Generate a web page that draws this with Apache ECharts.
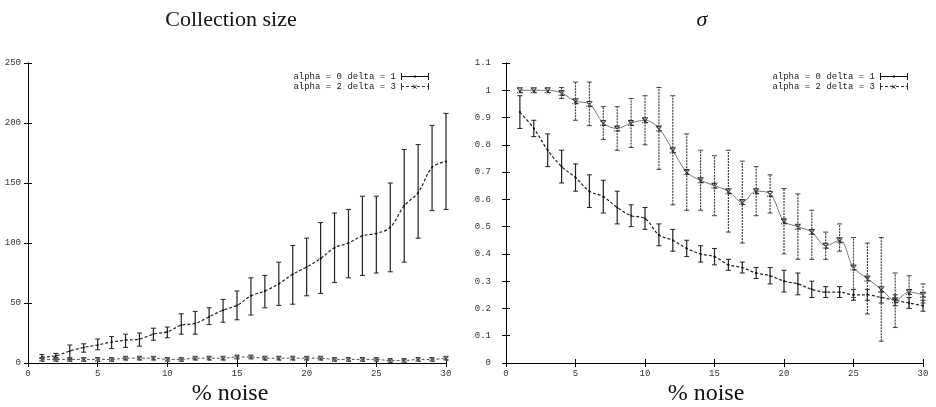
<!DOCTYPE html>
<html>
<head>
<meta charset="utf-8">
<script src="https://cdn.jsdelivr.net/npm/echarts@6/dist/echarts.min.js"></script>
<style>html,body{margin:0;padding:0;background:#fff}#c{width:936px;height:407px}</style>
</head>
<body>
<div id="c"></div>
<script>
var noise = [1,2,3,4,5,6,7,8,9,10,11,12,13,14,15,16,17,18,19,20,21,22,23,24,25,26,27,28,29,30];
var seriesNames = ['alpha = 0 delta = 1', 'alpha = 2 delta = 3'];
var sizeTicks = [0,50,100,150,200,250];

var sizeA = [5,6,10,13,15,17.5,19,20,24,26,31.5,33,38.5,44,48,56,60,66,74,80,87,96,100,106,108,113,131,142,163,168];
var sizeALow = [4,4,3,9,11,12,13,14,19,21,24,24,32,34,36,40,46,48,49,56,58,67,71,73,75,76,84,104,127,128];
var sizeAHigh = [7,8,15,16,20,22,24,25,29,30,41,43,46,53,60,71,73,84,98,104,117,125,128,139,139,150,178,182,198,208];

var sizeB = [3,3,3,3,3,3,4,4,4,3,3,4,4,4,5,5,4,4,4,4,4,3,3,3,3,2,2,3,3,4];
var sizeBLow = [2,2,2,2,2,2,3,3,3,2,2,3,3,3,4,4,3,3,3,3,3,2,2,2,2,1,1,2,2,3];
var sizeBHigh = [4,4,4,4,4,4,5,5,5,4,4,5,5,5,6,6,5,5,5,5,5,4,4,4,4,3,3,4,4,5];

var sigmaA = [0.92,0.86,0.78,0.72,0.68,0.63,0.61,0.57,0.54,0.53,0.47,0.45,0.42,0.40,0.39,0.36,0.35,0.33,0.32,0.30,0.29,0.27,0.26,0.26,0.25,0.25,0.24,0.23,0.22,0.21];
var sigmaALow = [0.86,0.83,0.72,0.66,0.63,0.57,0.55,0.51,0.50,0.49,0.43,0.41,0.39,0.37,0.36,0.34,0.33,0.31,0.29,0.26,0.25,0.24,0.24,0.24,0.23,0.23,0.22,0.21,0.20,0.19];
var sigmaAHigh = [0.98,0.89,0.84,0.78,0.73,0.69,0.67,0.63,0.58,0.57,0.51,0.49,0.45,0.43,0.42,0.38,0.37,0.35,0.35,0.34,0.33,0.30,0.28,0.28,0.27,0.27,0.26,0.25,0.24,0.23];

var sigmaB = [1.00,1.00,1.00,0.99,0.96,0.95,0.88,0.86,0.88,0.89,0.86,0.78,0.70,0.67,0.65,0.63,0.59,0.63,0.62,0.52,0.50,0.48,0.43,0.45,0.35,0.31,0.27,0.23,0.26,0.25];
var sigmaBLow = [1.00,1.00,1.00,0.97,0.89,0.87,0.82,0.78,0.79,0.80,0.71,0.58,0.56,0.56,0.54,0.48,0.44,0.54,0.55,0.40,0.38,0.38,0.38,0.41,0.24,0.18,0.08,0.13,0.20,0.22];
var sigmaBHigh = [1.00,1.00,1.00,1.01,1.03,1.03,0.94,0.94,0.97,0.98,1.01,0.98,0.84,0.78,0.76,0.78,0.74,0.72,0.69,0.64,0.62,0.56,0.48,0.51,0.46,0.44,0.46,0.33,0.32,0.29];

function pairs(v){ return noise.map(function(x,i){ return [x, v[i]]; }); }
function bars(lo, hi){ return noise.map(function(x,i){ return [x, lo[i], hi[i]]; }); }

function errorSeries(idx, lo, hi, color, dash){
  return {
    type: 'custom', xAxisIndex: idx*2, yAxisIndex: idx*2, silent: true, z: 3,
    encode: {x: 0, y: [1, 2]},
    data: bars(lo, hi),
    renderItem: function(params, api){
      var x = api.value(0), l = api.value(1), h = api.value(2);
      if (l === h) return {type: 'group', children: []};
      var p1 = api.coord([x, l]), p2 = api.coord([x, h]);
      var st = {stroke: color, lineWidth: 1.2, lineDash: dash};
      var st2 = {stroke: color, lineWidth: 1};
      return {type: 'group', children: [
        {type: 'line', shape: {x1: p1[0], y1: p1[1], x2: p2[0], y2: p2[1]}, style: st},
        {type: 'line', shape: {x1: p1[0]-2.5, y1: p1[1], x2: p1[0]+2.5, y2: p1[1]}, style: st2},
        {type: 'line', shape: {x1: p2[0]-2.5, y1: p2[1], x2: p2[0]+2.5, y2: p2[1]}, style: st2}
      ]};
    }
  };
}

var tickFont = {fontFamily: 'Liberation Mono', fontSize: 9, color: '#333'};
var xSym = 'path://M0,0L10,10M10,0L0,10M0,0h10v10h-10z';
var crossPath = 'path://M1,1L9,9L8,10L0,2zM9,1L1,9L2,10L10,2zM0,0h10v2h-10zM0,8h10v2h-10z';

function xAxes(gi){
  return [
    {type: 'value', gridIndex: gi, min: 0, max: 30, interval: 5, position: 'bottom',
     axisLine: {lineStyle: {color: '#000', width: 1}},
     axisTick: {inside: true, length: 4, lineStyle: {color: '#000'}},
     axisLabel: Object.assign({margin: 6}, tickFont), splitLine: {show: false}},
    {type: 'value', gridIndex: gi, min: 0, max: 30, interval: 5, position: 'top',
     axisLine: {lineStyle: {color: '#000', width: 1}},
     axisTick: {inside: true, length: 4, lineStyle: {color: '#000'}},
     axisLabel: {show: false}, splitLine: {show: false}}
  ];
}
function yAxes(gi, max, interval, margin){
  return [
    {type: 'value', gridIndex: gi, min: 0, max: max, interval: interval, position: 'left',
     axisLine: {show: true, lineStyle: {color: '#000', width: 1}},
     axisTick: {show: true, inside: true, length: 4, lineStyle: {color: '#000'}},
     axisLabel: Object.assign({margin: margin}, tickFont), splitLine: {show: false}},
    {type: 'value', gridIndex: gi, min: 0, max: max, interval: interval, position: 'right',
     axisLine: {show: true, lineStyle: {color: '#000', width: 1}},
     axisTick: {show: true, inside: true, length: 4, lineStyle: {color: '#000'}},
     axisLabel: {show: false}, splitLine: {show: false}}
  ];
}

var iconA = 'path://M0,3h28v1h-28zM0,0h1v7h-1zM27,0h1v7h-1zM13.5,2h1v3h-1z';
var iconB = 'path://M0,0h1v7h-1zM0,3h3v1h-3zM5,3h3v1h-3zM10,3h3v1h-3zM16,3h3v1h-3zM21,3h3v1h-3zM26,3h2v1h-2zM27,0h1v7h-1zM12,1.5L16,5.5L15.5,6L11.5,2zM16,2L12,6L11.5,5.5L15.5,1.5z';

function legend(right){
  return {
    orient: 'vertical', right: right, top: 67, align: 'right', itemGap: 1,
    itemWidth: 28, itemHeight: 7, selectedMode: false,
    textStyle: {fontFamily: 'Liberation Mono', fontSize: 9, color: '#222', lineHeight: 8},
    data: [
      {name: seriesNames[0], icon: iconA, itemStyle: {color: '#111'}},
      {name: seriesNames[1], icon: iconB, itemStyle: {color: '#333'}}
    ]
  };
}

var titleFont = {fontFamily: 'Liberation Serif', fontWeight: 'normal', color: '#111'};

var option = {
  animation: false,
  title: [
    {text: 'Collection size', left: 226, top: 4, textAlign: 'center', textStyle: Object.assign({fontSize: 22}, titleFont)},
    {text: 'σ', left: 697, top: 4, textAlign: 'center', textStyle: Object.assign({fontSize: 22, fontStyle: 'italic'}, titleFont)},
    {text: '% noise', left: 225, top: 377, textAlign: 'center', textStyle: Object.assign({fontSize: 24}, titleFont)},
    {text: '% noise', left: 701, top: 377, textAlign: 'center', textStyle: Object.assign({fontSize: 24}, titleFont)}
  ],
  legend: [legend(502), legend(23)],
  grid: [
    {left: 28, top: 63, width: 418, height: 300},
    {left: 506, top: 63, width: 417, height: 300}
  ],
  xAxis: xAxes(0).concat(xAxes(1)),
  yAxis: yAxes(0, 250, 50, 7).concat(yAxes(1, 1.1, 0.1, 15)),
  series: [
    errorSeries(0, sizeALow, sizeAHigh, '#222', null),
    errorSeries(0, sizeBLow, sizeBHigh, '#666', [2, 1]),
    {name: seriesNames[0], type: 'line', xAxisIndex: 0, yAxisIndex: 0, data: pairs(sizeA), smooth: 0.35,
     symbol: 'circle', symbolSize: 2, itemStyle: {color: '#111'},
     lineStyle: {color: '#222', width: 1.2, type: [3, 2]}, z: 4},
    {name: seriesNames[1], type: 'line', xAxisIndex: 0, yAxisIndex: 0, data: pairs(sizeB), smooth: 0.35,
     symbol: crossPath, symbolSize: 5, itemStyle: {color: '#444'},
     lineStyle: {color: '#555', width: 1, type: [3, 2]}, z: 4},

    errorSeries(1, sigmaALow, sigmaAHigh, '#222', null),
    errorSeries(1, sigmaBLow, sigmaBHigh, '#444', [2, 1]),
    {name: seriesNames[0], type: 'line', xAxisIndex: 2, yAxisIndex: 2, data: pairs(sigmaA), smooth: 0.35,
     symbol: 'circle', symbolSize: 2, itemStyle: {color: '#111'},
     lineStyle: {color: '#222', width: 1.2, type: [3, 2]}, z: 4},
    {name: seriesNames[1], type: 'line', xAxisIndex: 2, yAxisIndex: 2, data: pairs(sigmaB), smooth: 0.35,
     symbol: crossPath, symbolSize: 6, itemStyle: {color: '#333'},
     lineStyle: {color: '#777', width: 1}, z: 4}
  ]
};
var chart = echarts.init(document.getElementById('c'), null, {renderer: 'canvas'});
chart.setOption(option);
</script>
</body>
</html>
